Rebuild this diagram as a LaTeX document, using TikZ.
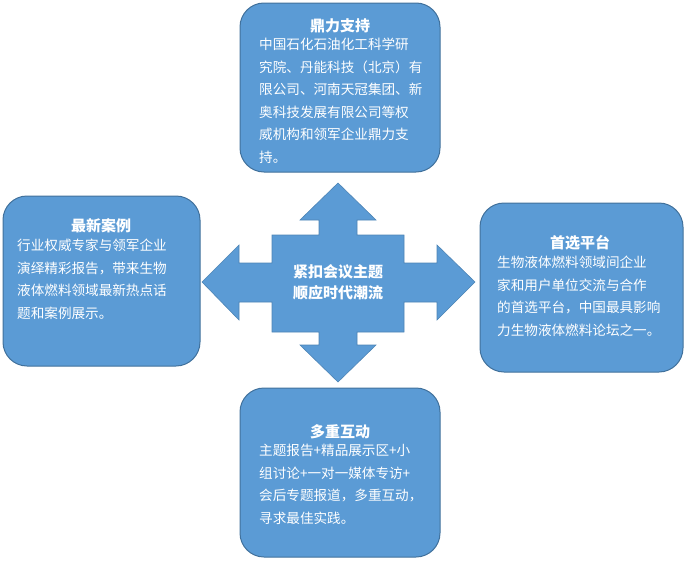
\documentclass[tikz,border=0pt]{standalone}
\usepackage{fontspec}
\newfontfamily\cjk{Noto Sans CJK SC}
\begin{document}
\begin{tikzpicture}[x=1pt,y=-1pt,
  box/.style={draw=boxborder,fill=boxfill,line width=1pt,rounded corners=24pt},
  body/.style={anchor=north west,inner sep=0pt,align=left,text=white,font=\cjk\fontsize{13.6}{22.5}\selectfont},
  ttl/.style={text=white,font=\cjk\bfseries\fontsize{15}{18}\selectfont,inner sep=0pt}]
\definecolor{boxfill}{HTML}{5B9BD5}
\definecolor{boxborder}{HTML}{41719C}
\useasboundingbox (0,0) rectangle (686,562);
% boxes
\draw[box] (240,3) rectangle (440,172);
\draw[box] (3,196) rectangle (200,366);
\draw[box] (480,203) rectangle (683,372);
\draw[box] (240,388) rectangle (440,557);
% cross arrow
\draw[fill=boxfill,draw=boxfill!85!black,line width=0.6pt]
 (338,183) -- (376,220) -- (357,220) -- (357,235) -- (404,235) -- (404,263) -- (437,263)
 -- (437,245) -- (475,282) -- (437,320) -- (437,302) -- (404,302) -- (404,332) -- (357,332)
 -- (357,345) -- (376,345) -- (338,382) -- (300,345) -- (319,345) -- (319,332) -- (272,332)
 -- (272,302) -- (239,302) -- (239,320) -- (202,282) -- (239,245) -- (239,263) -- (272,263)
 -- (272,235) -- (319,235) -- (319,220) -- (300,220) -- cycle;
\node[ttl,align=center,font=\cjk\bfseries\fontsize{15}{21}\selectfont] (c) at (338,282) {紧扣会议主题\\顺应时代潮流};
% top
\node[ttl] (t1) at (340,26) {鼎力支持};
\node[body] (b1) at (259,38) {中国石化石油化工科学研\\究院、丹能科技（北京）有\\限公司、河南天冠集团、新\\奥科技发展有限公司等权\\威机构和领军企业鼎力支\\持。};
% left
\node[ttl] (t2) at (101,226) {最新案例};
\node[body] (b2) at (17,239) {行业权威专家与领军企业\\演绎精彩报告，带来生物\\液体燃料领域最新热点话\\题和案例展示。};
% right
\node[ttl] (t3) at (580,243) {首选平台};
\node[body] (b3) at (497,256) {生物液体燃料领域间企业\\家和用户单位交流与合作\\的首选平台，中国最具影响\\力生物液体燃料论坛之一。};
% bottom
\node[ttl] (t4) at (340,432) {多重互动};
\node[body] (b4) at (259,444) {主题报告+精品展示区+小\\组讨论+一对一媒体专访+\\会后专题报道，多重互动，\\寻求最佳实践。};
\end{tikzpicture}
\end{document}
